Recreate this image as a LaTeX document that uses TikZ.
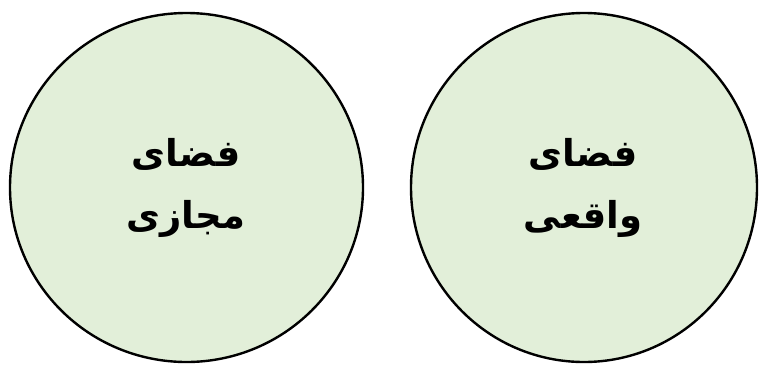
\documentclass[tikz,border=0pt]{standalone}
\usepackage{fontspec}
\newfontfamily\arabicfont[Script=Arabic]{DejaVu Sans}
\TeXXeTstate=1
\definecolor{circfill}{HTML}{E2EFD9}
\begin{document}
\begin{tikzpicture}[x=1pt,y=-1pt,
  space/.style={draw=black,line width=2.4pt,fill=circfill},
  lbl/.style={font=\arabicfont\bfseries\fontsize{37}{62}\selectfont,align=center}]
\useasboundingbox (0,0) rectangle (759,364);
\draw[space] (186.5,187.5) ellipse [x radius=176.5, y radius=174.5];
\draw[space] (584,187.5) ellipse [x radius=173, y radius=174.5];
\node[lbl] (virt) at (186,188) {\beginR فضای\endR\\\beginR مجازی\endR};
\node[lbl] (real) at (583,188) {\beginR فضای\endR\\\beginR واقعی\endR};
\end{tikzpicture}
\end{document}
